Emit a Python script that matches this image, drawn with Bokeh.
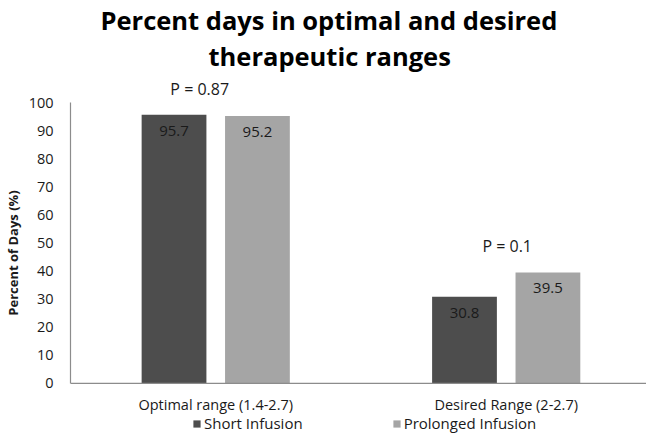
from bokeh.plotting import figure
from bokeh.models import Range1d, Label, Legend, LegendItem, ColumnDataSource, FixedTicker, Title, Span
from bokeh.core.properties import value
from bokeh.embed import file_html
from bokeh.resources import INLINE

categories = ["Optimal range (1.4-2.7)", "Desired Range (2-2.7)"]
short_infusion = [95.7, 30.8]
prolonged_infusion = [95.2, 39.5]
p_labels = ["P = 0.87", "P = 0.1"]
y_ticks = [0, 10, 20, 30, 40, 50, 60, 70, 80, 90, 100]
title_lines = ["Percent days in optimal and desired", "therapeutic ranges"]

FONT = "Open Sans"
DARK = "#4d4d4d"
LIGHT = "#a5a5a5"
TXT = "#1a1a1a"
AXIS = "#8c8c8c"

xs = [i + 0.5 for i in range(len(categories))]
off = 0.1436
bw = 0.223

p = figure(width=646, height=433, output_backend="svg", toolbar_location=None,
           x_range=Range1d(0, 1.983), y_range=Range1d(-17.86, 110.71),
           x_axis_location=None, min_border=0,
           min_border_left=59, min_border_right=0, min_border_top=60, min_border_bottom=0)
p.outline_line_color = None
p.grid.grid_line_color = None

# category axis line at zero
p.add_layout(Span(location=0, dimension="width", line_color=AXIS, line_width=1.2))

src_s = ColumnDataSource(dict(x=[x - off for x in xs], top=short_infusion,
                              lab=[f"{v}" for v in short_infusion]))
src_p = ColumnDataSource(dict(x=[x + off for x in xs], top=prolonged_infusion,
                              lab=[f"{v}" for v in prolonged_infusion]))
r1 = p.vbar(x="x", top="top", width=bw, source=src_s, fill_color=DARK, line_color=None)
r2 = p.vbar(x="x", top="top", width=bw, source=src_p, fill_color=LIGHT, line_color=None)

for src in (src_s, src_p):
    p.text(x="x", y="top", text="lab", source=src, text_align="center", text_baseline="middle",
           y_offset=16, text_font=value(FONT), text_font_size="15px", text_color=TXT)

# category labels under the zero line
cat_src = ColumnDataSource(dict(x=xs, y=[0] * len(xs), lab=categories))
p.text(x="x", y="y", text="lab", source=cat_src, text_align="center", text_baseline="alphabetic",
       y_offset=21, text_font=value(FONT), text_font_size="14.5px", text_color=TXT)

p_dx = [-16, 1]
for x, lab, a, b, dx in zip(xs, p_labels, short_infusion, prolonged_infusion, p_dx):
    p.add_layout(Label(x=x, y=max(a, b), text=lab, x_offset=dx, y_offset=26,
                       text_align="center", text_baseline="alphabetic",
                       text_font=FONT, text_font_size="16px", text_color=TXT))

# y axis
p.yaxis.ticker = FixedTicker(ticks=y_ticks)
p.yaxis.bounds = (0, 100)
p.yaxis.axis_line_color = AXIS
p.yaxis.axis_line_width = 1.2
p.yaxis.major_tick_line_color = None
p.yaxis.minor_tick_line_color = None
p.yaxis.major_tick_out = 0
p.yaxis.major_tick_in = 0
p.yaxis.major_label_text_font = FONT
p.yaxis.major_label_text_font_size = "14.5px"
p.yaxis.major_label_text_color = TXT
p.yaxis.major_label_standoff = 17
p.yaxis.axis_label = "Percent of Days (%)"
p.yaxis.axis_label_text_font = FONT
p.yaxis.axis_label_text_font_style = "bold"
p.yaxis.axis_label_text_font_size = "13px"
p.yaxis.axis_label_text_color = TXT
p.yaxis.axis_label_standoff = 4

legend = Legend(items=[LegendItem(label="Short Infusion", renderers=[r1]),
                       LegendItem(label="Prolonged Infusion", renderers=[r2])],
                orientation="horizontal", location=(122, 0),
                glyph_width=9, glyph_height=9, label_height=12, spacing=89, label_standoff=3,
                label_text_font=FONT, label_text_font_size="15px", label_text_color=TXT,
                border_line_color=None, background_fill_alpha=0, padding=0, margin=0)
p.add_layout(legend, "center")

p.add_layout(Title(text=title_lines[1], align="left", offset=138, standoff=0, text_font=FONT,
                   text_font_style="bold", text_font_size="25.5px", text_color="#000000"), "above")
p.add_layout(Title(text=title_lines[0], align="left", offset=30, standoff=0, text_font=FONT,
                   text_font_style="bold", text_font_size="25.5px", text_color="#000000"), "above")

open("out.html", "w").write(file_html(p, INLINE))
